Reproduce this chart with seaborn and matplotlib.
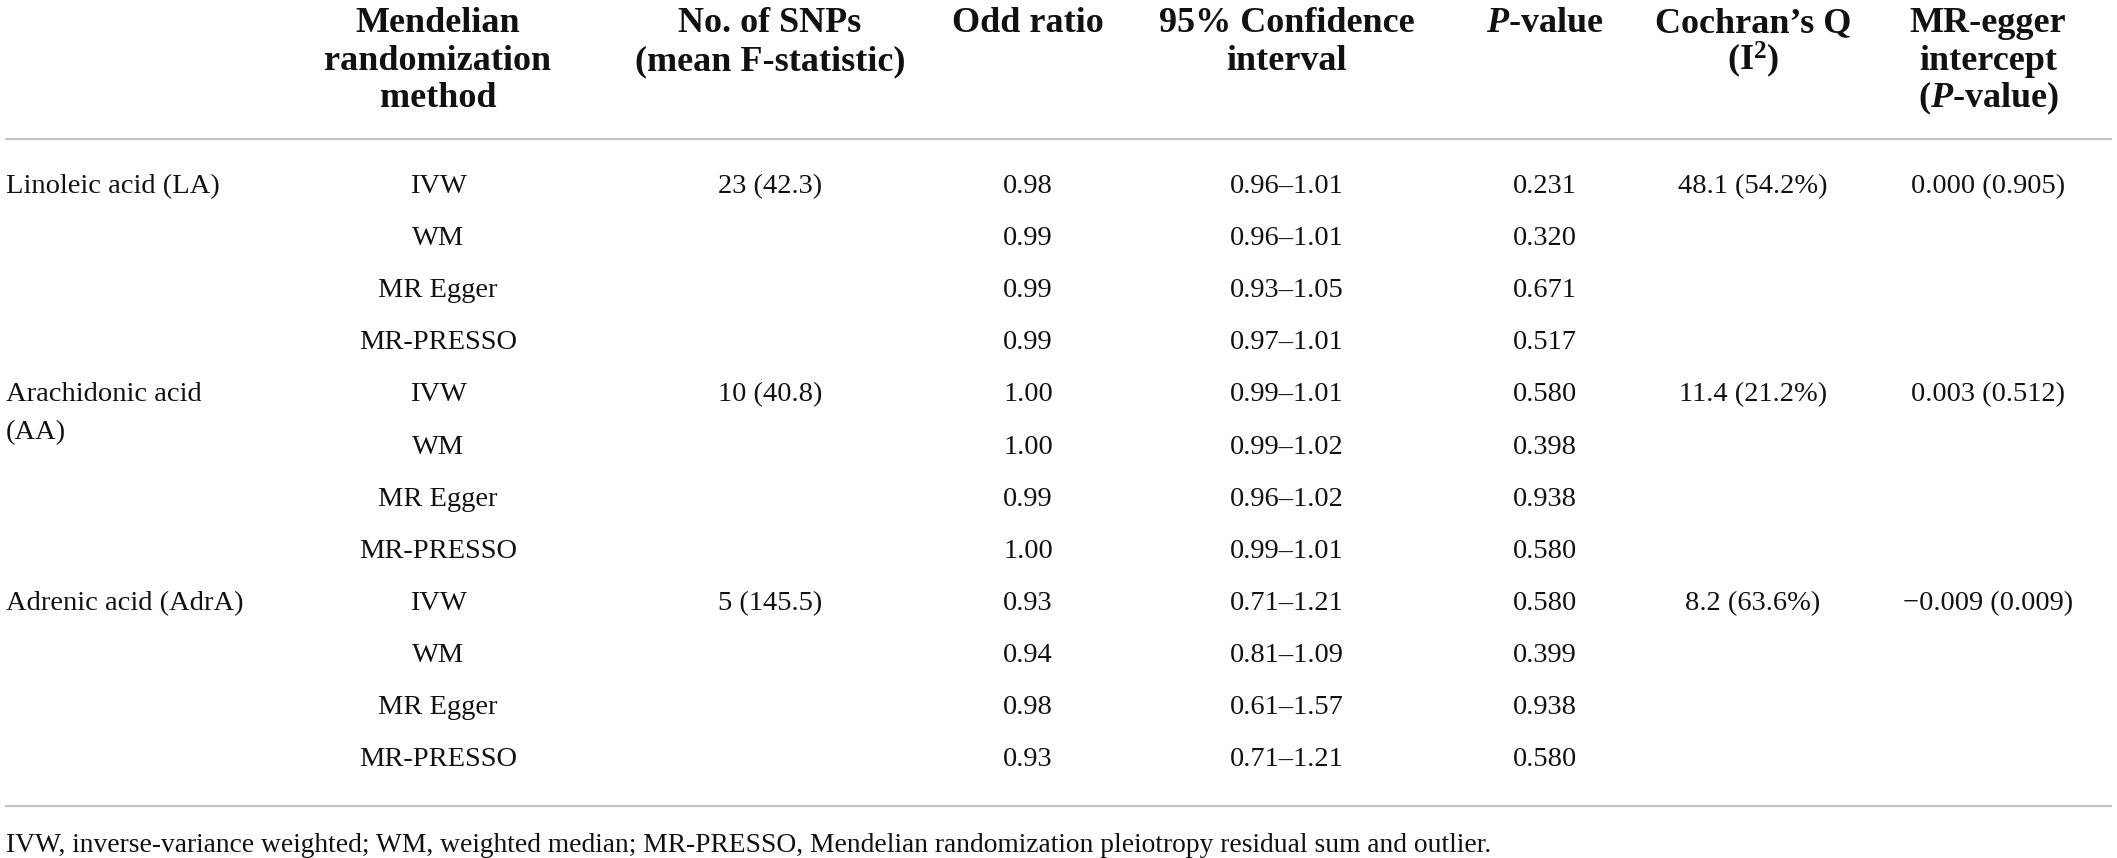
import matplotlib
matplotlib.use("Agg")
import matplotlib.pyplot as plt
import seaborn as sns

# ---------------- data ----------------
exposures = ["Linoleic acid (LA)", "Arachidonic acid\n(AA)", "Adrenic acid (AdrA)"]
methods = ["IVW", "WM", "MR Egger", "MR-PRESSO"]
n_snps = ["23 (42.3)", "10 (40.8)", "5 (145.5)"]
odds_ratio = [0.98, 0.99, 0.99, 0.99,
              1.00, 1.00, 0.99, 1.00,
              0.93, 0.94, 0.98, 0.93]
ci_low = [0.96, 0.96, 0.93, 0.97,
          0.99, 0.99, 0.96, 0.99,
          0.71, 0.81, 0.61, 0.71]
ci_high = [1.01, 1.01, 1.05, 1.01,
           1.01, 1.02, 1.02, 1.01,
           1.21, 1.09, 1.57, 1.21]
p_values = [0.231, 0.320, 0.671, 0.517,
            0.580, 0.398, 0.938, 0.580,
            0.580, 0.399, 0.938, 0.580]
cochran_q = [48.1, 11.4, 8.2]
i_squared = [54.2, 21.2, 63.6]
egger_intercept = [0.000, 0.003, -0.009]
egger_p = [0.905, 0.512, 0.009]

headers = [
    [""],
    ["Mendelian", "randomization", "method"],
    ["No. of SNPs", "(mean F-statistic)"],
    ["Odd ratio"],
    ["95% Confidence", "interval"],
    ["$P$-value"],
    ["Cochran\u2019s Q", "(I$^{2}$)"],
    ["MR-egger", "intercept", "($P$-value)"],
]
footnote = ("IVW, inverse-variance weighted; WM, weighted median; MR-PRESSO, "
            "Mendelian randomization pleiotropy residual sum and outlier.")

# ---------------- style ----------------
sns.set_theme(style="white")
plt.rcParams["font.family"] = ["Liberation Serif", "DejaVu Serif"]
plt.rcParams["mathtext.fontset"] = "custom"
plt.rcParams["mathtext.it"] = "Liberation Serif:italic:bold"
plt.rcParams["mathtext.rm"] = "Liberation Serif:bold"
plt.rcParams["mathtext.bf"] = "Liberation Serif:bold"

W, H = 2117, 858
fig = plt.figure(figsize=(W / 100, H / 100), dpi=100)
ax = fig.add_axes([0, 0, 1, 1])
ax.set_xlim(0, W)
ax.set_ylim(H, 0)
ax.axis("off")
sns.despine(ax=ax, left=True, bottom=True)

txt_color = "#111111"
rule_color = "#c4c4c4"
col_x = [6, 438, 770, 1028, 1287, 1545, 1753, 1988]
head_base = [32, 70, 107]
row0 = 193
row_step = 52.1
body_fs = 20.5
head_fs = 26
foot_fs = 19.8

# header
for ci, lines in enumerate(headers):
    for li, line in enumerate(lines):
        if not line:
            continue
        ax.text(col_x[ci], head_base[li], line, ha="center", va="baseline",
                fontsize=head_fs, fontweight="bold", color=txt_color)

# rules
ax.plot([5, 2112], [139, 139], color=rule_color, lw=1.6, solid_capstyle="butt")
ax.plot([5, 2112], [806, 806], color=rule_color, lw=1.6, solid_capstyle="butt")

# body
def fmt_minus(s):
    return s.replace("-", "\u2212")

for g, expo in enumerate(exposures):
    first = g * len(methods)
    yb = row0 + first * row_step
    for li, part in enumerate(expo.split("\n")):
        ax.text(col_x[0], yb + li * 38, part, ha="left", va="baseline",
                fontsize=body_fs, color=txt_color)
    ax.text(col_x[2], yb, n_snps[g], ha="center", va="baseline",
            fontsize=body_fs, color=txt_color)
    ax.text(col_x[6], yb, f"{cochran_q[g]:.1f} ({i_squared[g]:.1f}%)",
            ha="center", va="baseline", fontsize=body_fs, color=txt_color)
    ax.text(col_x[7], yb, fmt_minus(f"{egger_intercept[g]:.3f}") + f" ({egger_p[g]:.3f})",
            ha="center", va="baseline", fontsize=body_fs, color=txt_color)
    for m, meth in enumerate(methods):
        r = first + m
        y = row0 + r * row_step
        ax.text(col_x[1], y, meth, ha="center", va="baseline",
                fontsize=body_fs, color=txt_color)
        ax.text(col_x[3], y, f"{odds_ratio[r]:.2f}", ha="center", va="baseline",
                fontsize=body_fs, color=txt_color)
        ax.text(col_x[4], y, f"{ci_low[r]:.2f}\u2013{ci_high[r]:.2f}", ha="center",
                va="baseline", fontsize=body_fs, color=txt_color)
        ax.text(col_x[5], y, f"{p_values[r]:.3f}", ha="center", va="baseline",
                fontsize=body_fs, color=txt_color)

# footnote
ax.text(6, 852, footnote, ha="left", va="baseline", fontsize=foot_fs, color=txt_color)

fig.savefig("out.png", dpi=100)
